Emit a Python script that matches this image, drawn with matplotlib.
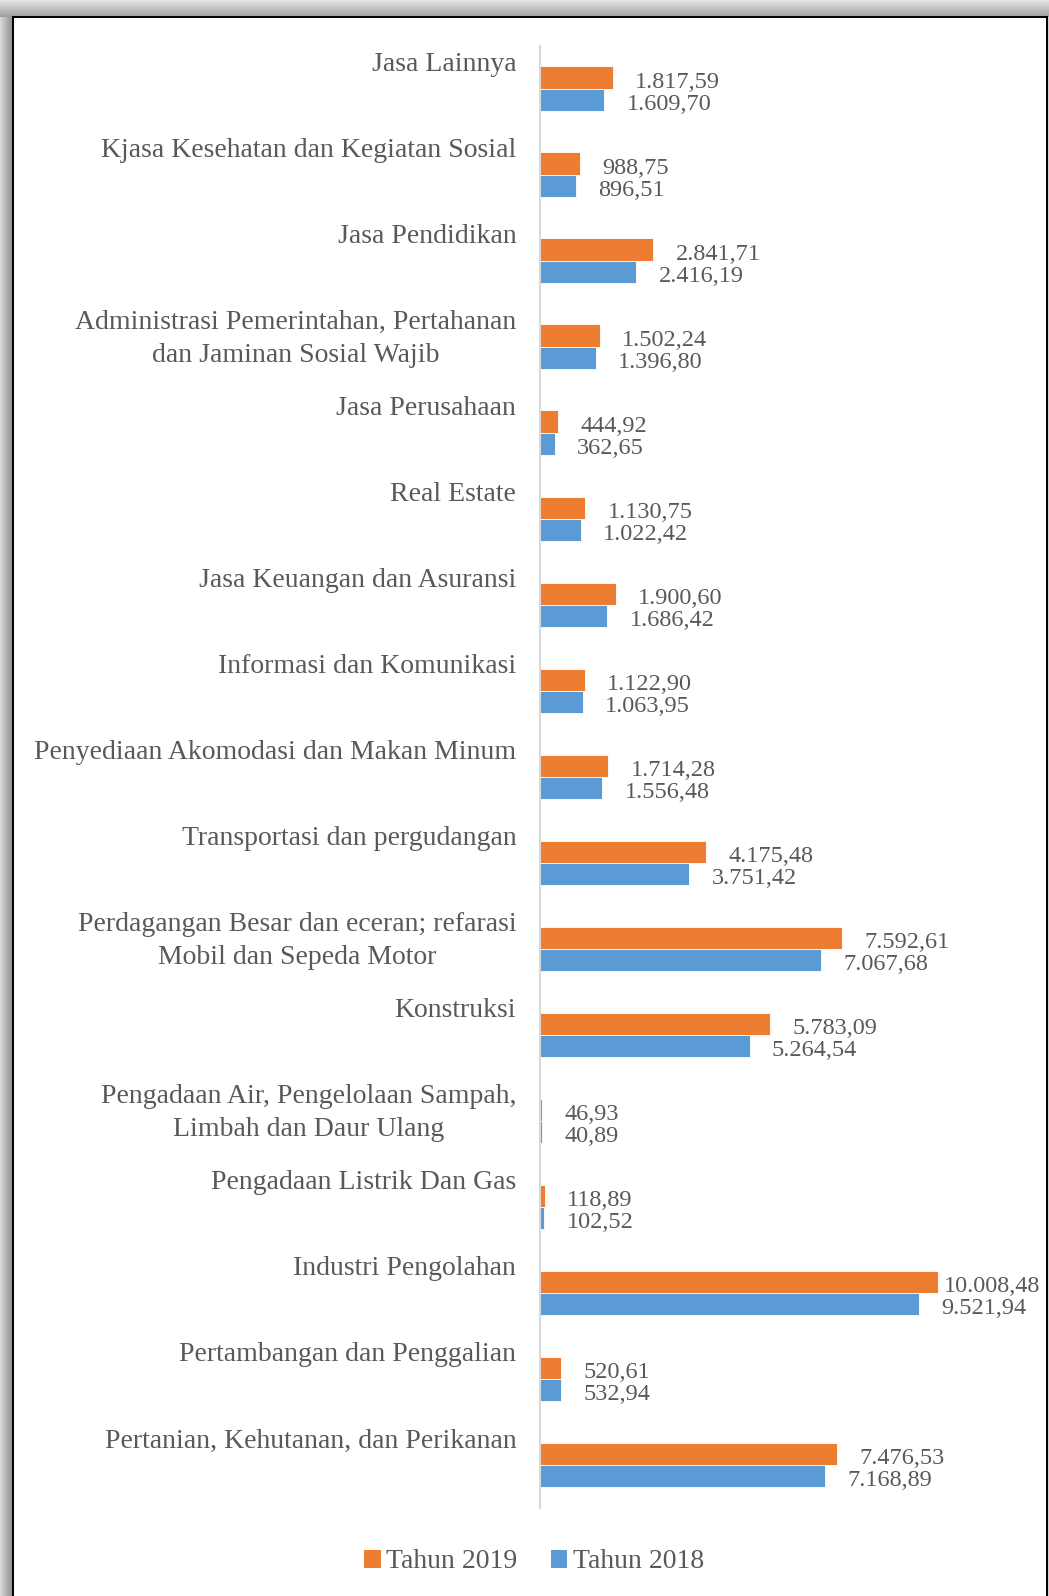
import matplotlib
matplotlib.use("Agg")
import matplotlib.pyplot as plt
from matplotlib.patches import Rectangle, Patch
import numpy as np

plt.rcParams['font.family'] = ['Liberation Serif', 'DejaVu Serif']

categories = [
    "Jasa Lainnya",
    "Kjasa Kesehatan dan Kegiatan Sosial",
    "Jasa Pendidikan",
    "Administrasi Pemerintahan, Pertahanan\ndan Jaminan Sosial Wajib",
    "Jasa Perusahaan",
    "Real Estate",
    "Jasa Keuangan dan Asuransi",
    "Informasi dan Komunikasi",
    "Penyediaan Akomodasi dan Makan Minum",
    "Transportasi dan pergudangan",
    "Perdagangan Besar dan eceran; refarasi\nMobil dan Sepeda Motor",
    "Konstruksi",
    "Pengadaan Air, Pengelolaan Sampah,\nLimbah dan Daur Ulang",
    "Pengadaan Listrik Dan Gas",
    "Industri Pengolahan",
    "Pertambangan dan Penggalian",
    "Pertanian, Kehutanan, dan Perikanan",
]
tahun_2019 = [1817.59, 988.75, 2841.71, 1502.24, 444.92, 1130.75, 1900.60,
              1122.90, 1714.28, 4175.48, 7592.61, 5783.09, 46.93, 118.89,
              10008.48, 520.61, 7476.53]
tahun_2018 = [1609.70, 896.51, 2416.19, 1396.80, 362.65, 1022.42, 1686.42,
              1063.95, 1556.48, 3751.42, 7067.68, 5264.54, 40.89, 102.52,
              9521.94, 532.94, 7168.89]
series_names = ["Tahun 2019", "Tahun 2018"]

ORANGE = "#ED7D31"
BLUE = "#5B9BD5"
TXT = "#595959"

W, H = 1049, 1596
fig = plt.figure(figsize=(W / 100, H / 100), dpi=100)
fig.patch.set_facecolor("white")

def px(x0, y0, w, h):
    # pixel box (top-left origin) -> figure fraction rect
    return (x0 / W, 1 - (y0 + h) / H, w / W, h / H)

# frame shadow gradients
top_cols = np.linspace(0.90, 0.62, 17)
for i, c in enumerate(top_cols):
    r = px(0, i, W, 1)
    fig.patches.append(Rectangle(r[:2], r[2], r[3], transform=fig.transFigure,
                                 facecolor=(c, c, c), edgecolor="none", zorder=0))
left_cols = np.linspace(0.85, 0.58, 12)
for i, c in enumerate(left_cols):
    r = px(i, 17, 1, H - 17)
    fig.patches.append(Rectangle(r[:2], r[2], r[3], transform=fig.transFigure,
                                 facecolor=(c, c, c), edgecolor="none", zorder=0))
r = px(1047, 17, 2, H - 17)
fig.patches.append(Rectangle(r[:2], r[2], r[3], transform=fig.transFigure,
                             facecolor="#d0d0d0", edgecolor="none", zorder=0))
# black border
for (x0, y0, w, h) in [(12, 16, 1035, 2), (11.5, 16, 2, H - 16), (1045.5, 16, 2, H - 16)]:
    r = px(x0, y0, w, h)
    fig.patches.append(Rectangle(r[:2], r[2], r[3], transform=fig.transFigure,
                                 facecolor="black", edgecolor="none", zorder=1))

ax_left, ax_top, ax_bottom = 540.3, 45.8, 1508
xmax = 12000
px_per_unit = 0.03975
ax_w = xmax * px_per_unit
ax = fig.add_axes(px(ax_left, ax_top, ax_w, ax_bottom - ax_top))
ax.set_facecolor("none")

n = len(categories)
y = np.arange(n)
bh = 0.26
ax.barh(y - bh / 2, tahun_2019, height=bh, color=ORANGE, edgecolor="white", linewidth=0.6)
ax.barh(y + bh / 2, tahun_2018, height=bh, color=BLUE, edgecolor="white", linewidth=0.6)
ax.set_xlim(0, xmax)
ax.set_ylim(n - 0.5, -0.5)

for s in ["top", "right", "bottom"]:
    ax.spines[s].set_visible(False)
ax.spines["left"].set_color("#D9D9D9")
ax.spines["left"].set_linewidth(1.5)
ax.set_xticks([])
ax.set_yticks([])

def fmt(v):
    s = f"{v:,.2f}"
    return s.replace(",", "X").replace(".", ",").replace("X", ".")

GAP_PT = 16
value_texts = []
for i in range(n):
    for v, yy in ((tahun_2019[i], i - bh / 2), (tahun_2018[i], i + bh / 2)):
        t = ax.annotate(fmt(v), xy=(v, yy), xytext=(GAP_PT, -1.5), textcoords="offset points",
                        ha="left", va="center_baseline", fontsize=17.5, color=TXT)
        value_texts.append(t)
    ax.text(-24 / ax_w, i - 0.5 + 0.075, categories[i], transform=ax.get_yaxis_transform(),
            ha="right", va="top", multialignment="center", fontsize=20, color=TXT,
            linespacing=1.42)

# keep value labels inside the chart area (as the original does)
fig.canvas.draw()
renderer = fig.canvas.get_renderer()
right_limit = 1040  # px from left
for t in value_texts:
    bb = t.get_window_extent(renderer)
    over = bb.x1 - right_limit
    if over > 0:
        x_off, y_off = t.xyann
        t.xyann = (x_off - over * 72 / fig.dpi, y_off)

handles = [Patch(facecolor=ORANGE), Patch(facecolor=BLUE)]
fig.legend(handles, series_names, loc="center", bbox_to_anchor=(534 / W, 1 - 1562 / H),
           ncol=2, frameon=False, fontsize=20, labelcolor=TXT,
           handlelength=0.6, handleheight=0.6, handletextpad=0.2, columnspacing=1.2)

fig.savefig("out.png", dpi=100)
